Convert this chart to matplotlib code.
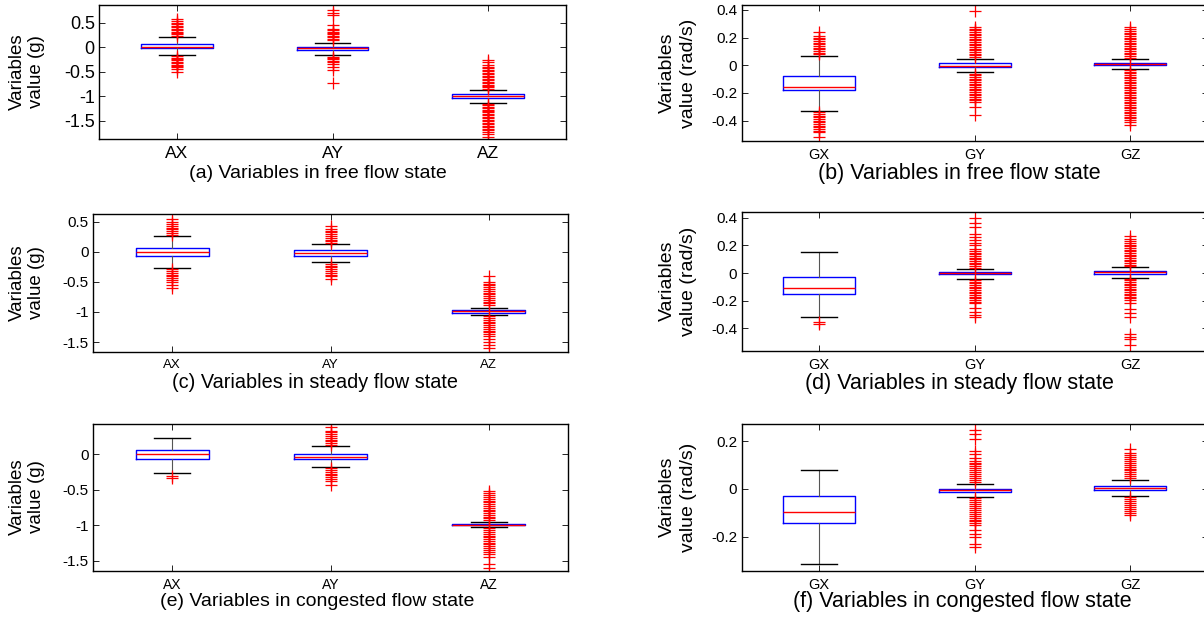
import matplotlib.pyplot as plt
from matplotlib.ticker import FormatStrFormatter

plt.rcParams["font.family"] = ["Liberation Sans", "DejaVu Sans"]
plt.rcParams["axes.unicode_minus"] = False

acc_names = ["AX", "AY", "AZ"]
gyro_names = ["GX", "GY", "GZ"]

# (a) free flow, acceleration (g)
a_q1 = [-0.026, -0.055, -1.04]
a_med = [0.014, -0.02, -1.0]
a_q3 = [0.075, 0.012, -0.96]
a_lo = [-0.15, -0.15, -1.13]
a_hi = [0.2, 0.095, -0.874]
a_out = [
    [0.23, 0.26, 0.29, 0.32, 0.35, 0.38, 0.41, 0.44, 0.47, 0.5, 0.53, 0.58,
     -0.18, -0.21, -0.24, -0.27, -0.3, -0.33, -0.36, -0.39, -0.41, -0.45, -0.5],
    [0.14, 0.17, 0.2, 0.23, 0.26, 0.29, 0.32, 0.35, 0.38, 0.45, 0.66, 0.7, 0.75,
     -0.19, -0.22, -0.25, -0.28, -0.31, -0.34, -0.4, -0.46, -0.73],
    [-0.26, -0.3, -0.37, -0.4, -0.43, -0.46, -0.49, -0.52, -0.55, -0.58, -0.61,
     -0.64, -0.67, -0.7, -0.73, -0.76, -0.79, -0.82, -0.85,
     -1.15, -1.18, -1.21, -1.24, -1.27, -1.3, -1.33, -1.36, -1.39, -1.42, -1.45,
     -1.48, -1.51, -1.54, -1.57, -1.6, -1.63, -1.66, -1.69, -1.72, -1.76, -1.82],
]

# (b) free flow, gyroscope (rad/s)
b_q1 = [-0.18, -0.014, 0.004]
b_med = [-0.155, -0.005, 0.01]
b_q3 = [-0.078, 0.014, 0.02]
b_lo = [-0.33, -0.048, -0.024]
b_hi = [0.07, 0.048, 0.045]
b_out = [
    [0.08, 0.092, 0.104, 0.116, 0.128, 0.14, 0.152, 0.164, 0.176, 0.188, 0.2,
     0.212, 0.24,
     -0.34, -0.352, -0.364, -0.376, -0.388, -0.4, -0.412, -0.424, -0.436,
     -0.448, -0.46, -0.472, -0.484, -0.52],
    [0.06, 0.072, 0.084, 0.096, 0.108, 0.12, 0.132, 0.144, 0.156, 0.168, 0.18,
     0.192, 0.204, 0.216, 0.228, 0.24, 0.252, 0.264, 0.276, 0.39,
     -0.06, -0.072, -0.084, -0.096, -0.108, -0.12, -0.132, -0.144, -0.156,
     -0.168, -0.18, -0.192, -0.204, -0.216, -0.228, -0.24, -0.252, -0.264,
     -0.3, -0.36],
    [0.055, 0.067, 0.079, 0.091, 0.103, 0.115, 0.127, 0.139, 0.151, 0.163,
     0.175, 0.187, 0.199, 0.211, 0.223, 0.235, 0.247, 0.259, 0.28,
     -0.035, -0.047, -0.059, -0.071, -0.083, -0.095, -0.107, -0.119, -0.131,
     -0.143, -0.155, -0.167, -0.179, -0.191, -0.203, -0.215, -0.227, -0.239,
     -0.251, -0.263, -0.275, -0.287, -0.299, -0.311, -0.323, -0.335, -0.347,
     -0.359, -0.371, -0.383, -0.395, -0.407, -0.43],
]

# (c) steady flow, acceleration (g)
c_q1 = [-0.077, -0.066, -1.01]
c_med = [0.0, -0.025, -0.985]
c_q3 = [0.066, 0.023, -0.967]
c_lo = [-0.265, -0.17, -1.055]
c_hi = [0.255, 0.12, -0.93]
c_out = [
    [0.28, 0.31, 0.34, 0.37, 0.4, 0.43, 0.46, 0.5, 0.55,
     -0.29, -0.32, -0.35, -0.38, -0.41, -0.44, -0.47, -0.5, -0.55, -0.6],
    [0.14, 0.17, 0.2, 0.23, 0.26, 0.29, 0.32, 0.35, 0.37, 0.42,
     -0.2, -0.23, -0.26, -0.29, -0.32, -0.35, -0.38, -0.41, -0.45],
    [-0.4, -0.5, -0.53, -0.56, -0.59, -0.62, -0.65, -0.68, -0.71, -0.74,
     -0.77, -0.8, -0.83, -0.86, -0.89,
     -1.07, -1.1, -1.13, -1.16, -1.19, -1.22, -1.25, -1.28, -1.31, -1.34,
     -1.37, -1.4, -1.45, -1.5, -1.55, -1.6],
]

# (d) steady flow, gyroscope (rad/s)
d_q1 = [-0.154, -0.01, -0.005]
d_med = [-0.108, -0.003, 0.005]
d_q3 = [-0.031, 0.005, 0.017]
d_lo = [-0.32, -0.04, -0.033]
d_hi = [0.154, 0.03, 0.043]
d_out = [
    [-0.355, -0.37],
    [0.04, 0.052, 0.064, 0.076, 0.088, 0.1, 0.112, 0.124, 0.136, 0.148, 0.16,
     0.172, 0.2, 0.22, 0.24, 0.26, 0.28, 0.33, 0.36, 0.4,
     -0.05, -0.062, -0.074, -0.086, -0.098, -0.11, -0.122, -0.134, -0.146,
     -0.158, -0.17, -0.182, -0.194, -0.206, -0.218, -0.25, -0.28, -0.3, -0.32],
    [0.05, 0.062, 0.074, 0.086, 0.098, 0.11, 0.122, 0.134, 0.146, 0.158, 0.17,
     0.182, 0.194, 0.206, 0.218, 0.23, 0.245, 0.27,
     -0.04, -0.052, -0.064, -0.076, -0.088, -0.1, -0.112, -0.124, -0.136,
     -0.148, -0.16, -0.172, -0.184, -0.196, -0.22, -0.26, -0.29, -0.32,
     -0.44, -0.46, -0.48, -0.52],
]

# (e) congested flow, acceleration (g)
e_q1 = [-0.066, -0.066, -1.0]
e_med = [0.0, -0.035, -0.99]
e_q3 = [0.065, 0.0, -0.98]
e_lo = [-0.26, -0.183, -1.03]
e_hi = [0.23, 0.113, -0.953]
e_out = [
    [-0.31, -0.33],
    [0.13, 0.155, 0.18, 0.205, 0.23, 0.255, 0.28, 0.305, 0.33, 0.38,
     -0.2, -0.225, -0.25, -0.275, -0.3, -0.325, -0.35, -0.375, -0.43],
    [-0.52, -0.55, -0.58, -0.605, -0.63, -0.655, -0.68, -0.705, -0.73, -0.755,
     -0.78, -0.805, -0.83, -0.855, -0.88, -0.905, -0.93,
     -1.045, -1.07, -1.095, -1.12, -1.145, -1.17, -1.195, -1.22, -1.245,
     -1.27, -1.295, -1.32, -1.345, -1.37, -1.4, -1.45, -1.55, -1.6],
]

# (f) congested flow, gyroscope (rad/s)
f_q1 = [-0.144, -0.014, -0.004]
f_med = [-0.0975, -0.006, 0.005]
f_q3 = [-0.029, 0.0, 0.014]
f_lo = [-0.312, -0.032, -0.029]
f_hi = [0.081, 0.021, 0.039]
f_out = [
    [],
    [0.03, 0.038, 0.046, 0.054, 0.062, 0.07, 0.078, 0.086, 0.094, 0.102, 0.11,
     0.118, 0.13, 0.145, 0.16, 0.21, 0.23, 0.245,
     -0.04, -0.048, -0.056, -0.064, -0.072, -0.08, -0.088, -0.096, -0.104,
     -0.112, -0.12, -0.128, -0.136, -0.144, -0.152, -0.17, -0.19, -0.2,
     -0.23, -0.245],
    [0.045, 0.053, 0.061, 0.069, 0.077, 0.085, 0.093, 0.101, 0.109, 0.117,
     0.125, 0.133, 0.141, 0.15, 0.165,
     -0.035, -0.043, -0.051, -0.059, -0.067, -0.075, -0.083, -0.091, -0.1,
     -0.11],
]

W, H = 1204, 620
fig = plt.figure(figsize=(W / 100, H / 100), dpi=100)


def draw_panel(box_px, names, q1, med, q3, lo, hi, outs, ylim, yticks,
               ytick_fs, xtick_fs):
    x0, y0, x1, y1 = box_px
    ax = fig.add_axes([x0 / W, 1 - y1 / H, (x1 - x0) / W, (y1 - y0) / H])
    stats = []
    for i in range(3):
        stats.append(dict(label=names[i], q1=q1[i], med=med[i], q3=q3[i],
                          whislo=lo[i], whishi=hi[i], fliers=outs[i]))
    ax.bxp(stats, positions=[1, 2, 3], widths=0.46, capwidths=0.23,
           boxprops=dict(color="blue", linewidth=1.0),
           medianprops=dict(color="red", linewidth=1.0),
           whiskerprops=dict(color="#555555", linewidth=0.8, linestyle="-"),
           capprops=dict(color="black", linewidth=1.0),
           flierprops=dict(marker="+", markeredgecolor="red", markersize=9,
                           markeredgewidth=0.9, linestyle="none"))
    ax.set_xlim(0.5, 3.5)
    ax.set_ylim(ylim)
    ax.set_yticks(yticks)
    ax.yaxis.set_major_formatter(FormatStrFormatter("%g"))
    ax.tick_params(axis="both", direction="in", top=True, right=True,
                   length=4, width=0.6)
    ax.tick_params(axis="y", labelsize=ytick_fs, pad=3)
    ax.tick_params(axis="x", labelsize=xtick_fs, pad=5)
    for s in ax.spines.values():
        s.set_linewidth(1.0)
    return ax


draw_panel((99, 5, 566, 139), acc_names, a_q1, a_med, a_q3, a_lo, a_hi, a_out,
           (-1.87, 0.86), [-1.5, -1, -0.5, 0, 0.5], 13, 12.5)
draw_panel((741.5, 5, 1208, 140.7), gyro_names, b_q1, b_med, b_q3, b_lo, b_hi,
           b_out, (-0.545, 0.436), [-0.4, -0.2, 0, 0.2, 0.4], 11, 10.5)
draw_panel((93, 214.3, 568, 351.7), acc_names, c_q1, c_med, c_q3, c_lo, c_hi,
           c_out, (-1.66, 0.62), [-1.5, -1, -0.5, 0, 0.5], 11, 9.5)
draw_panel((741.5, 212.3, 1208, 350.7), gyro_names, d_q1, d_med, d_q3, d_lo,
           d_hi, d_out, (-0.562, 0.44), [-0.4, -0.2, 0, 0.2, 0.4], 11, 10.5)
draw_panel((93, 424.3, 568, 570.7), acc_names, e_q1, e_med, e_q3, e_lo, e_hi,
           e_out, (-1.64, 0.42), [-1.5, -1, -0.5, 0], 11, 10)
draw_panel((741.5, 424.3, 1208, 570.7), gyro_names, f_q1, f_med, f_q3, f_lo,
           f_hi, f_out, (-0.342, 0.27), [-0.2, 0, 0.2], 11, 10.5)

# y labels
for yc in [72, 283, 497]:
    fig.text(27 / W, 1 - yc / H, "Variables\nvalue (g)", rotation=90,
             ha="center", va="center", multialignment="center",
             fontsize=13.5, linespacing=1.2)
for yc in [73, 281, 497]:
    fig.text(678 / W, 1 - yc / H, "Variables\nvalue (rad/s)", rotation=90,
             ha="center", va="center", multialignment="center",
             fontsize=14, linespacing=1.25)

# subtitles
subs = [
    (318, 173, "(a) Variables in free flow state", 14),
    (959, 174, "(b) Variables in free flow state", 15.5),
    (315, 383, "(c) Variables in steady flow state", 14.3),
    (959, 384, "(d) Variables in steady flow state", 15.5),
    (317, 601, "(e) Variables in congested flow state", 14),
    (962, 602, "(f) Variables in congested flow state", 15.5),
]
for xc, yc, txt, fs in subs:
    fig.text(xc / W, 1 - yc / H, txt, ha="center", va="center", fontsize=fs)

fig.savefig("out.png", dpi=100, facecolor="white")
